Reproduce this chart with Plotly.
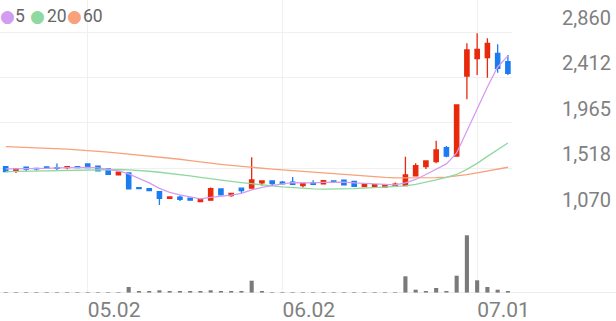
import plotly.graph_objects as go

dates = [
    "2025-04-21", "2025-04-22", "2025-04-23", "2025-04-24", "2025-04-25",
    "2025-04-28", "2025-04-29", "2025-04-30", "2025-05-02", "2025-05-07",
    "2025-05-08", "2025-05-09", "2025-05-12", "2025-05-13", "2025-05-14",
    "2025-05-15", "2025-05-16", "2025-05-19", "2025-05-20", "2025-05-21",
    "2025-05-22", "2025-05-23", "2025-05-26", "2025-05-27", "2025-05-28",
    "2025-05-29", "2025-05-30", "2025-06-02", "2025-06-04", "2025-06-05",
    "2025-06-09", "2025-06-10", "2025-06-11", "2025-06-12", "2025-06-13",
    "2025-06-16", "2025-06-17", "2025-06-18", "2025-06-19", "2025-06-20",
    "2025-06-23", "2025-06-24", "2025-06-25", "2025-06-26", "2025-06-27",
    "2025-06-30", "2025-07-01", "2025-07-02", "2025-07-03", "2025-07-04",
]

open_ = [1535, 1493, 1529, 1519, 1532, 1525, 1525, 1535, 1562, 1539,
         1513, 1454, 1473, 1329, 1319, 1289, 1224, 1234, 1224, 1191,
         1205, 1316, 1250, 1323, 1323, 1375, 1395, 1382, 1382, 1348,
         1378, 1365, 1395, 1401, 1391, 1339, 1339, 1335, 1348, 1348,
         1444, 1535, 1584, 1722, 1640, 2427, 2599, 2609, 2650, 2568]
high = [1537, 1514, 1531, 1522, 1535, 1565, 1537, 1537, 1565, 1541,
        1515, 1482, 1476, 1331, 1321, 1291, 1239, 1250, 1232, 1216,
        1329, 1318, 1275, 1326, 1628, 1397, 1397, 1395, 1434, 1370,
        1401, 1400, 1397, 1403, 1393, 1364, 1360, 1357, 1378, 1633,
        1569, 1593, 1791, 1739, 2145, 2749, 2847, 2798, 2739, 2634]
low = [1484, 1473, 1493, 1496, 1515, 1500, 1510, 1523, 1523, 1490,
       1457, 1452, 1313, 1317, 1297, 1158, 1222, 1198, 1203, 1185,
       1203, 1255, 1240, 1273, 1320, 1348, 1355, 1360, 1360, 1329,
       1355, 1363, 1380, 1352, 1339, 1337, 1337, 1333, 1339, 1346,
       1442, 1513, 1569, 1628, 1638, 2198, 2437, 2411, 2460, 2437]
close = [1486, 1512, 1510, 1513, 1519, 1519, 1535, 1525, 1525, 1493,
         1460, 1480, 1316, 1319, 1299, 1224, 1237, 1214, 1205, 1214,
         1319, 1257, 1273, 1299, 1404, 1395, 1368, 1365, 1362, 1368,
         1362, 1398, 1382, 1355, 1342, 1362, 1358, 1355, 1362, 1454,
         1545, 1591, 1699, 1640, 2142, 2683, 2690, 2749, 2503, 2454]

ma5 = [1513, 1513, 1516, 1517, 1519, 1522, 1524, 1525, 1527, 1522,
       1508, 1493, 1463, 1419, 1375, 1321, 1281, 1257, 1237, 1218,
       1232, 1242, 1254, 1272, 1306, 1331, 1350, 1365, 1378, 1375,
       1375, 1380, 1382, 1382, 1375, 1370, 1365, 1355, 1355, 1375,
       1409, 1458, 1513, 1562, 1670, 1886, 2103, 2319, 2516, 2625]
ma20 = [1486, 1488, 1491, 1493, 1496, 1498, 1500, 1503, 1505, 1508,
        1508, 1507, 1503, 1498, 1490, 1480, 1470, 1458, 1444, 1429,
        1414, 1401, 1390, 1378, 1365, 1355, 1345, 1336, 1328, 1321,
        1316, 1314, 1314, 1316, 1319, 1323, 1328, 1333, 1339, 1345,
        1360, 1380, 1404, 1429, 1458, 1508, 1567, 1636, 1704, 1768]
ma60 = [1732, 1729, 1726, 1723, 1719, 1713, 1707, 1701, 1695, 1687,
        1678, 1669, 1660, 1650, 1640, 1631, 1621, 1608, 1595, 1581,
        1569, 1558, 1547, 1536, 1525, 1518, 1510, 1503, 1495, 1488,
        1480, 1471, 1462, 1454, 1447, 1440, 1434, 1429, 1424, 1423,
        1424, 1425, 1427, 1431, 1441, 1456, 1473, 1491, 1510, 1529]

volume = [6000, 5000, 6000, 5000, 6000, 7000, 5000, 5000, 7000, 14000,
          14000, 14000, 120000, 20000, 34000, 54000, 20000, 20000, 20000, 20000,
          54000, 20000, 20000, 20000, 246000, 34000, 14000, 14000, 14000, 14000,
          14000, 14000, 14000, 14000, 14000, 14000, 14000, 14000, 14000, 334000,
          66000, 34000, 100000, 34000, 346000, 1154000, 254000, 120000, 66000, 34000]

price_ticks = [1070, 1517.5, 1965, 2412.5, 2860]
price_tick_text = ["1,070", "1,518", "1,965", "2,412", "2,860"]
date_ticks = ["2025-05-02", "2025-06-02", "2025-07-01"]
date_tick_text = ["05.02", "06.02", "07.01"]

ma_names = ["5", "20", "60"]
ma_colors = ["#d49cf0", "#8fd9a0", "#f8a27c"]
UP = "#e8290b"
DOWN = "#1a7cf0"
GRID = "#f0f0f0"
TXT = "#808080"
FONT = "Roboto"

fig = go.Figure()
fig.add_trace(go.Candlestick(
    x=dates, open=open_, high=high, low=low, close=close,
    increasing=dict(line=dict(color=UP, width=1.3), fillcolor=UP),
    decreasing=dict(line=dict(color=DOWN, width=1.3), fillcolor=DOWN),
    xaxis="x", yaxis="y", showlegend=False, hoverinfo="skip",
))
for vals, col in zip([ma60, ma20, ma5], [ma_colors[2], ma_colors[1], ma_colors[0]]):
    fig.add_trace(go.Scatter(x=dates, y=vals, mode="lines",
                             line=dict(color=col, width=1.3),
                             xaxis="x", yaxis="y", showlegend=False,
                             hoverinfo="skip"))
fig.add_trace(go.Bar(x=dates, y=volume, marker=dict(color="#7a7a7a", line=dict(width=0)),
                     width=0.4, xaxis="x2", yaxis="y2", showlegend=False,
                     hoverinfo="skip"))

n = len(dates)
xr = [-0.556, n - 0.6]
split = 0.2696

fig.update_layout(
    width=616, height=321,
    margin=dict(l=0, r=104, t=0, b=28),
    paper_bgcolor="white", plot_bgcolor="white",
    boxgap=0.4,
    font=dict(family=FONT, color=TXT),
    xaxis=dict(domain=[0, 1], anchor="y", type="category", range=xr,
               tickvals=date_ticks, showticklabels=False, showgrid=True,
               gridcolor=GRID, gridwidth=1, zeroline=False, showline=False,
               ticks="", rangeslider=dict(visible=False), fixedrange=True),
    yaxis=dict(domain=[split, 1], anchor="x", range=[1069, 3175], side="right",
               tickvals=price_ticks, ticktext=price_tick_text,
               showgrid=True, gridcolor=GRID, gridwidth=1, zeroline=False,
               showline=False, ticks="", ticklabelposition="outside top",
               ticklabelstandoff=49,
               tickfont=dict(family=FONT, size=20, color=TXT)),
    xaxis2=dict(domain=[0, 1], anchor="y2", type="category", range=xr,
                tickvals=date_ticks, ticktext=date_tick_text,
                showgrid=True, gridcolor=GRID, gridwidth=1, zeroline=False,
                showline=False, ticks="", ticklabelposition="outside right",
                ticklabelstandoff=2,
                tickfont=dict(family=FONT, size=21, color=TXT)),
    yaxis2=dict(domain=[0, split], anchor="x2", range=[0, 1580000],
                showgrid=False, showticklabels=False, zeroline=False,
                showline=False, ticks=""),
    shapes=[dict(type="line", xref="paper", yref="y2", x0=0, x1=616 / 512,
                 y0=0, y1=0, line=dict(color="#dddddd", width=1))],
)

# legend: coloured dot + label for each moving average
legend_dot_x = [0, 30, 66.5]
legend_txt_x = [15, 46.5, 83]
ly = (293 - 15.5) / 293
for name, col, dx, tx in zip(ma_names, ma_colors, legend_dot_x, legend_txt_x):
    fig.add_annotation(
        xref="paper", yref="paper", x=dx / 512, y=ly,
        xanchor="left", yanchor="middle", showarrow=False, text="●",
        borderpad=0, borderwidth=0,
        font=dict(family="DejaVu Sans", size=17, color=col))
    fig.add_annotation(
        xref="paper", yref="paper", x=tx / 512, y=ly,
        xanchor="left", yanchor="middle", showarrow=False, text=name,
        borderpad=0, borderwidth=0,
        font=dict(family=FONT, size=17.5, color="#666666"))

fig.write_html("out.html")
